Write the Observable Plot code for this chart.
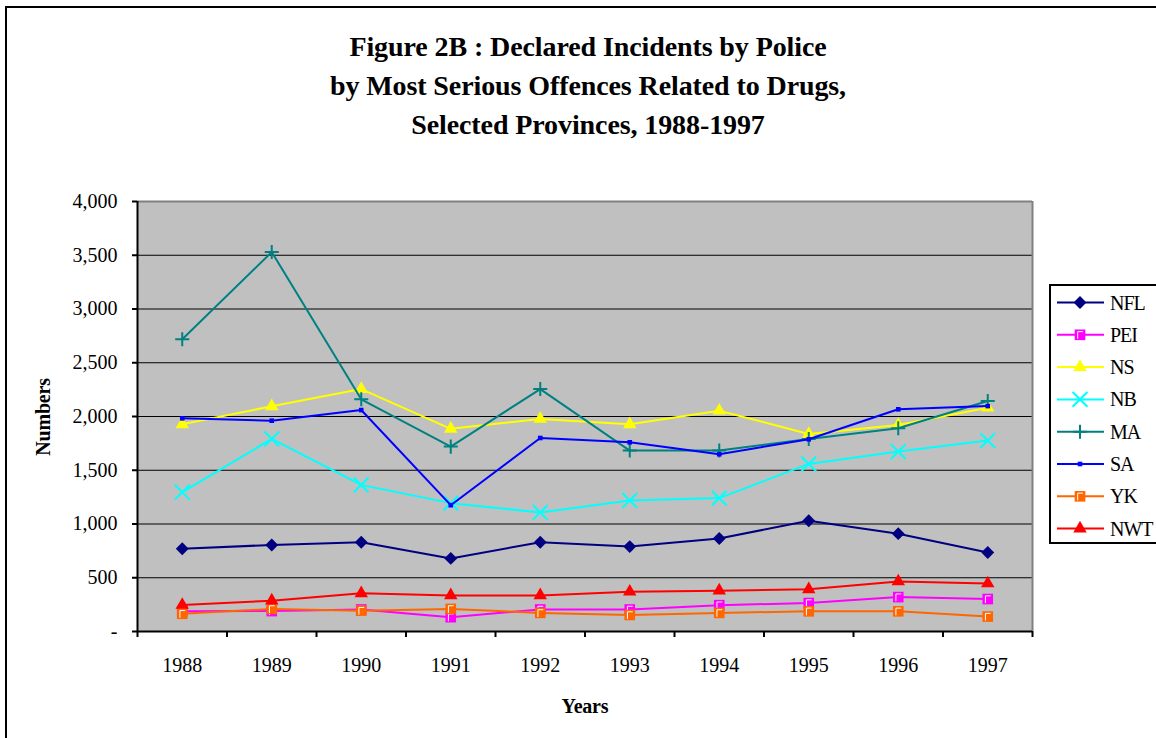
<!DOCTYPE html>
<html>
<head>
<meta charset="utf-8">
<script src="https://cdn.jsdelivr.net/npm/d3@7"></script>
<script src="https://cdn.jsdelivr.net/npm/@observablehq/plot@0.6"></script>
<style>
  html, body { margin: 0; padding: 0; background: #fff; }
  #wrap { position: relative; width: 1156px; height: 738px; overflow: hidden; background: #fff;
          font-family: "Liberation Serif", "Times New Roman", serif; color: #000; }
  #frame { position: absolute; left: 5px; top: 6px; width: 1300px; height: 900px;
           border-left: 2px solid #000; border-top: 2px solid #000; }
  #title { position: absolute; left: 0; width: 1176px; top: 27px; text-align: center;
           font-weight: bold; font-size: 28px; line-height: 39px; letter-spacing: -0.1px; }
  #chart { position: absolute; left: 0; top: 0; }
  #ylab { position: absolute; left: 43px; top: 417px; transform: translate(-50%, -50%) rotate(-90deg);
          font-weight: bold; font-size: 20px; white-space: nowrap; letter-spacing: -0.2px; }
  #xlab { position: absolute; left: 585px; top: 706px; transform: translate(-50%, -50%);
          font-weight: bold; font-size: 20px; letter-spacing: -0.2px; }
  #legend { position: absolute; left: 0; top: 0; pointer-events: none; }
  #chart text, #legend text { font-family: "Liberation Serif", "Times New Roman", serif; }
</style>
</head>
<body>
<div id="wrap">
  <div id="frame"></div>
  <div id="title">Figure 2B : Declared Incidents by Police<br>by Most Serious Offences Related to Drugs,<br>Selected Provinces, 1988-1997</div>
  <div id="chart"></div>
  <div id="ylab">Numbers</div>
  <div id="xlab">Years</div>
  <svg id="legend" width="1156" height="738"></svg>
</div>
<script>
// ---- data ----
const years = [1988, 1989, 1990, 1991, 1992, 1993, 1994, 1995, 1996, 1997];
const seriesNames = ["NFL", "PEI", "NS", "NB", "MA", "SA", "YK", "NWT"];
const NFL = [770, 805, 830, 680, 830, 790, 865, 1030, 910, 735];
const PEI = [188, 190, 205, 133, 205, 205, 245, 265, 320, 302];
const NS  = [1927, 2095, 2255, 1885, 1977, 1927, 2054, 1838, 1921, 2082];
const NB  = [1296, 1791, 1364, 1194, 1107, 1219, 1241, 1559, 1674, 1776];
const MA  = [2719, 3530, 2160, 1720, 2255, 1683, 1683, 1791, 1890, 2144];
const SA  = [1983, 1961, 2060, 1175, 1800, 1760, 1649, 1788, 2067, 2097];
const YK  = [165, 210, 194, 210, 173, 154, 173, 188, 188, 139];
const NWT = [247, 287, 355, 336, 336, 370, 380, 392, 466, 447];
const yTicks = [0, 500, 1000, 1500, 2000, 2500, 3000, 3500, 4000];
const yTickLabels = ["-", "500", "1,000", "1,500", "2,000", "2,500", "3,000", "3,500", "4,000"];

const values = {NFL, PEI, NS, NB, MA, SA, YK, NWT};

// ---- styles ----
const styles = {
  NFL: {color: "#000080", symbol: "diamond2", r: 5.8, filled: true},
  PEI: {color: "#FF00FF", symbol: "square",   r: 6.0, filled: true, mark: true},
  NS:  {color: "#FFFF00", symbol: "triangle", r: 5.0, filled: true},
  NB:  {color: "#00FFFF", symbol: "times",    r: 6.8, filled: false},
  MA:  {color: "#008080", symbol: "plus",     r: 4.6, filled: false},
  SA:  {color: "#0000FF", symbol: "square",   r: 2.6, filled: true},
  YK:  {color: "#FF6600", symbol: "square",   r: 6.0, filled: true, mark: true},
  NWT: {color: "#FF0000", symbol: "triangle", r: 5.0, filled: true}
};

// white corner mark drawn inside the square markers
const cornerMark = {
  draw(context, size) {
    const h = Math.sqrt(size);
    context.moveTo(-0.22 * h, 0.38 * h);
    context.lineTo(-0.22 * h, -0.3 * h);
    context.lineTo(0.28 * h, -0.3 * h);
  }
};

const rows = seriesNames.flatMap(name => years.map((year, i) => ({name, year, value: values[name][i]})));

const boundaries = d3.range(1987.5, 1998, 1);
const grid = yTicks.filter(v => v > 0 && v < 4000);

const seriesMarks = seriesNames.flatMap(name => {
  const s = styles[name];
  const data = rows.filter(d => d.name === name);
  const dotOpts = s.filled
    ? {x: "year", y: "value", symbol: () => s.symbol, r: s.r, fill: s.color, stroke: "none"}
    : {x: "year", y: "value", symbol: () => s.symbol, r: s.r, fill: "none", stroke: s.color, strokeWidth: 2};
  const marks = [
    Plot.line(data, {x: "year", y: "value", stroke: s.color, strokeWidth: 2}),
    Plot.dot(data, dotOpts)
  ];
  if (s.mark) marks.push(Plot.dot(data, {x: "year", y: "value", symbol: cornerMark, r: s.r, fill: "none", stroke: "#fff", strokeWidth: 1}));
  return marks;
});

const fontFamily = "'Liberation Serif', 'Times New Roman', serif";

const chart = Plot.plot({
  width: 1156,
  height: 738,
  marginLeft: 137,
  marginRight: 124,
  marginTop: 201,
  marginBottom: 107,
  style: {fontFamily, fontSize: "20px", color: "#000", background: "transparent", overflow: "visible"},
  x: {type: "linear", domain: [1987.5, 1997.5]},
  y: {domain: [0, 4000]},
  marks: [
    Plot.frame({fill: "#C0C0C0", stroke: "none"}),
    Plot.ruleY(grid, {stroke: "#000", strokeWidth: 1}),
    Plot.ruleY([4000], {stroke: "#808080", strokeWidth: 2}),
    Plot.ruleX([1997.5], {stroke: "#808080", strokeWidth: 2}),
    ...seriesMarks,
    Plot.ruleX([1987.5], {stroke: "#000", strokeWidth: 2}),
    Plot.ruleY([0], {stroke: "#000", strokeWidth: 2}),
    Plot.axisY({ticks: yTicks, tickFormat: d => yTickLabels[yTicks.indexOf(d)], tickSize: 5, tickPadding: 15,
                strokeWidth: 2, label: null, fontSize: 20, fontFamily, letterSpacing: -0.5}),
    Plot.axisX({ticks: boundaries, tickFormat: () => "", tickSize: 6, strokeWidth: 2, label: null}),
    Plot.axisX({ticks: years, tickFormat: d => String(d), tickSize: 0, tickPadding: 26, label: null, fontSize: 20, fontFamily, letterSpacing: -0.5})
  ]
});
document.getElementById("chart").appendChild(chart);

// ---- legend ----
const lg = d3.select("#legend");
const lx = 1050, ly = 285, lh = 258;
lg.append("rect").attr("x", lx).attr("y", ly).attr("width", 130).attr("height", lh)
  .attr("fill", "#fff").attr("stroke", "#000").attr("stroke-width", 2);
const symMap = {diamond2: d3.symbolDiamond2, square: d3.symbolSquare, triangle: d3.symbolTriangle, times: d3.symbolTimes, plus: d3.symbolPlus};
seriesNames.forEach((name, i) => {
  const s = styles[name];
  const cy = 302.5 + i * 32.3;
  const g = lg.append("g");
  g.append("line").attr("x1", 1057).attr("x2", 1104).attr("y1", cy).attr("y2", cy)
    .attr("stroke", s.color).attr("stroke-width", 2);
  const size = s.r * s.r * Math.PI;
  const sym = g.append("path").attr("d", d3.symbol(symMap[s.symbol], size)()).attr("transform", `translate(1080,${cy})`);
  if (s.filled) sym.attr("fill", s.color);
  else sym.attr("fill", "none").attr("stroke", s.color).attr("stroke-width", 2);
  if (s.mark) g.append("path").attr("d", d3.symbol(cornerMark, size)()).attr("transform", `translate(1080,${cy})`)
    .attr("fill", "none").attr("stroke", "#fff").attr("stroke-width", 1);
  g.append("text").attr("x", 1110).attr("y", cy).attr("dy", "0.35em")
    .attr("font-size", 20).attr("letter-spacing", -1).attr("fill", "#000").text(name);
});
</script>
</body>
</html>
